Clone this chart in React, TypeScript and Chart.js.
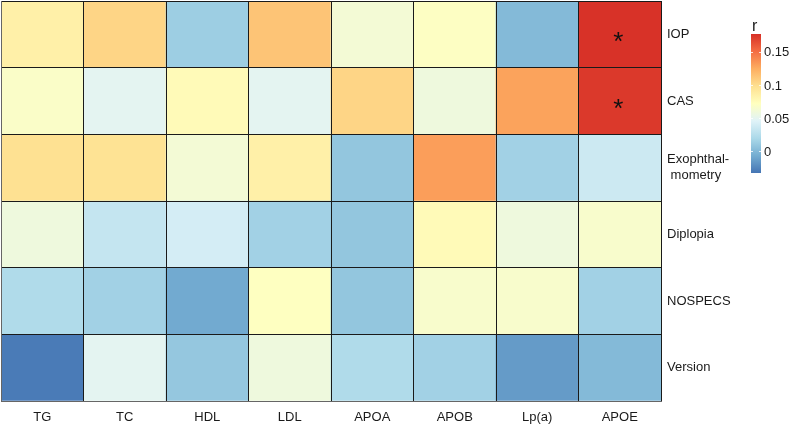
import React, { useEffect, useRef } from "react";
import { Chart, registerables } from "chart.js";

Chart.register(...registerables);

// ---- data ----
const columns = ["TG", "TC", "HDL", "LDL", "APOA", "APOB", "Lp(a)", "APOE"];
const rowNames = ["IOP", "CAS", "Exophthalmometry", "Diplopia", "NOSPECS", "Version"];
const rowLabels: (string | string[])[] = ["IOP", "CAS", ["Exophthal-", " mometry"], "Diplopia", "NOSPECS", "Version"];

const iop = [0.085, 0.104, 0.013, 0.113, 0.062, 0.07, 0.001, 0.176];
const cas = [0.068, 0.049, 0.076, 0.049, 0.104, 0.058, 0.129, 0.173];
const exophthalmometry = [0.097, 0.096, 0.062, 0.085, 0.008, 0.131, 0.015, 0.036];
const diplopia = [0.058, 0.032, 0.04, 0.015, 0.008, 0.076, 0.058, 0.066];
const nospecs = [0.022, 0.015, -0.008, 0.071, 0.008, 0.066, 0.066, 0.015];
const version = [-0.03, 0.049, 0.009, 0.058, 0.022, 0.015, -0.015, 0.001];

const significant: [string, string][] = [
  ["IOP", "APOE"],
  ["CAS", "APOE"],
];

const colorMin = -0.033;
const colorMax = 0.177;
const legendTicks = [0, 0.05, 0.1, 0.15];
const legendTickLabels = ["0", "0.05", "0.1", "0.15"];

// ---- colour scale (RdYlBu, reversed) ----
const palette = ["#4575b4", "#74add1", "#abd9e9", "#e0f3f8", "#ffffbf", "#fee090", "#fdae61", "#f46d43", "#d73027"];

function hexToRgb(h: string) {
  return [parseInt(h.slice(1, 3), 16), parseInt(h.slice(3, 5), 16), parseInt(h.slice(5, 7), 16)];
}
function colorFor(v: number) {
  let t = (v - colorMin) / (colorMax - colorMin);
  t = Math.max(0, Math.min(1, t));
  const pos = t * (palette.length - 1);
  const i = Math.min(palette.length - 2, Math.floor(pos));
  const f = pos - i;
  const a = hexToRgb(palette[i]);
  const b = hexToRgb(palette[i + 1]);
  const c = a.map((x, k) => Math.round(x + (b[k] - x) * f));
  return `rgb(${c[0]},${c[1]},${c[2]})`;
}

const FONT = "'Liberation Sans', Arial, Helvetica, sans-serif";
const TEXT = "#1a1a1a";

export default function App() {
  const ref = useRef<HTMLCanvasElement | null>(null);

  useEffect(() => {
    if (!ref.current) return;
    const rowsData = [iop, cas, exophthalmometry, diplopia, nospecs, version];
    const nRows = rowsData.length;
    // stacked bars: bottom row first
    const datasets = rowsData
      .map((vals, r) => ({
        label: rowNames[r],
        data: vals.map(() => 1),
        backgroundColor: vals.map(colorFor),
        borderWidth: 0,
        barPercentage: 1,
        categoryPercentage: 1,
        stack: "s",
        yAxisID: "y",
      }))
      .reverse();

    const starPlugin = {
      id: "stars",
      afterDatasetsDraw(chart: any) {
        const ctx = chart.ctx;
        const xs = chart.scales.x;
        const ys = chart.scales.y;
        ctx.save();
        ctx.fillStyle = "#111";
        ctx.font = `26px ${FONT}`;
        ctx.textAlign = "center";
        ctx.textBaseline = "alphabetic";
        for (const [rn, cn] of significant) {
          const r = rowNames.indexOf(rn);
          const c = columns.indexOf(cn);
          const x = xs.getPixelForValue(c);
          const y = ys.getPixelForValue(nRows - r - 0.5);
          const m = ctx.measureText("*");
          const asc = m.actualBoundingBoxAscent;
          const desc = m.actualBoundingBoxDescent;
          const mid = (asc - desc) / 2;
          ctx.fillText("*", x - 1.5, y + 2.5 + mid);
        }
        ctx.restore();
      },
    };

    const legendPlugin = {
      id: "colorbar",
      afterDraw(chart: any) {
        const ctx = chart.ctx;
        const x0 = 751, w = 10, top = 34, bottom = 173;
        const yFor = (v: number) => bottom - ((v - colorMin) / (colorMax - colorMin)) * (bottom - top);
        ctx.save();
        const g = ctx.createLinearGradient(0, bottom, 0, top);
        palette.forEach((c, i) => g.addColorStop(i / (palette.length - 1), c));
        ctx.fillStyle = g;
        ctx.fillRect(x0, top, w, bottom - top);
        ctx.fillStyle = TEXT;
        ctx.font = `16px ${FONT}`;
        ctx.textAlign = "left";
        ctx.textBaseline = "alphabetic";
        ctx.fillText("r", 752, 31);
        ctx.font = `13px ${FONT}`;
        ctx.textBaseline = "middle";
        legendTicks.forEach((v, i) => {
          const y = yFor(v);
          ctx.strokeStyle = "rgba(255,255,255,0.8)";
          ctx.lineWidth = 1;
          ctx.beginPath();
          ctx.moveTo(x0, Math.round(y) + 0.5);
          ctx.lineTo(x0 + 2, Math.round(y) + 0.5);
          ctx.moveTo(x0 + w - 2, Math.round(y) + 0.5);
          ctx.lineTo(x0 + w, Math.round(y) + 0.5);
          ctx.stroke();
          ctx.fillStyle = TEXT;
          ctx.fillText(legendTickLabels[i], 764, y + 1);
        });
        ctx.restore();
      },
    };

    const chart = new Chart(ref.current, {
      type: "bar",
      data: { labels: columns, datasets },
      plugins: [starPlugin, legendPlugin],
      options: {
        animation: false,
        responsive: false,
        layout: { padding: { left: 1, top: 1, right: 0, bottom: 0 } },
        plugins: { legend: { display: false }, tooltip: { enabled: false } },
        scales: {
          x: {
            type: "category",
            stacked: true,
            offset: true,
            grid: { offset: true, color: "#1a1a1a", lineWidth: 1, drawTicks: false, z: 1 },
            border: { display: true, color: "#666", width: 1, z: 2 },
            ticks: { color: TEXT, font: { family: FONT, size: 13 }, padding: 9, maxRotation: 0, autoSkip: false },
            afterFit: (s: any) => {
              s.height = 26;
              s.paddingLeft = 0;
              s.paddingRight = 0;
            },
          },
          y: {
            type: "linear",
            stacked: true,
            min: 0,
            max: nRows,
            position: "left",
            ticks: { display: false, stepSize: 1 },
            grid: { color: "#1a1a1a", lineWidth: 1, drawTicks: false, z: 1 },
            border: { display: true, color: "#666", width: 1, z: 2 },
            afterFit: (s: any) => {
              s.width = 0;
              s.paddingTop = 0;
              s.paddingBottom = 0;
            },
          },
          y2: {
            type: "category",
            labels: rowLabels as any,
            position: "right",
            offset: true,
            grid: { display: false, drawTicks: false },
            border: { display: false },
            ticks: { color: TEXT, font: { family: FONT, size: 13 }, padding: 6, crossAlign: "near", autoSkip: false },
            afterFit: (s: any) => {
              s.width = 128;
              s.paddingTop = 0;
              s.paddingBottom = 0;
            },
          },
        },
      } as any,
    });
    return () => chart.destroy();
  }, []);

  return (
    <div style={{ position: "absolute", left: 0, top: 0, width: 789, height: 427, background: "#fff" }}>
      <canvas ref={ref} width={789} height={427} style={{ display: "block" }} />
    </div>
  );
}
